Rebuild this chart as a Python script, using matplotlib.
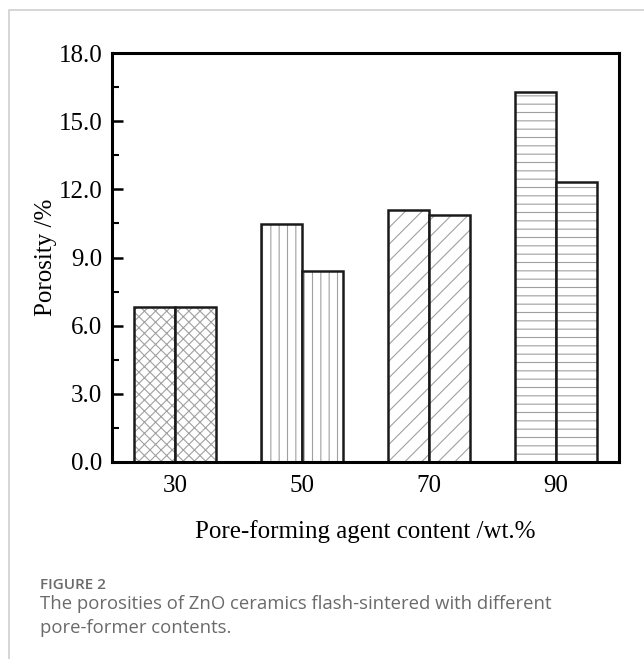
import matplotlib

matplotlib.use("Agg")
import matplotlib.pyplot as plt
import numpy as np
from matplotlib.patches import Rectangle

# --- data -------------------------------------------------------------------
categories = ["30", "50", "70", "90"]
porosity_a = [6.82, 10.47, 11.09, 16.30]
porosity_b = [6.80, 8.41, 10.85, 12.31]
hatches = ["xxx", "||", "//", "--"]

y_ticks = [0.0, 3.0, 6.0, 9.0, 12.0, 15.0, 18.0]

# --- figure -------------------------------------------------------------------
plt.rcParams["hatch.linewidth"] = 0.8
fig = plt.figure(figsize=(6.44, 6.59), dpi=100)

# card border (only left/top edges fall inside the picture)
fig.patches.append(
    Rectangle((8.5 / 644, -0.1), 1.2, 1 - 9.5 / 659 + 0.1,
              transform=fig.transFigure, fill=False,
              edgecolor="#cfcfcf", linewidth=1.2)
)

ax = fig.add_axes([112 / 644, 1 - 462 / 659, (619 - 112) / 644, (462 - 53) / 659])

x = np.arange(len(categories))
width = 0.323
serif = "Liberation Serif"

for xs, vals in ((x - width / 2, porosity_a), (x + width / 2, porosity_b)):
    # hatch layer in gray, then black outlines on top
    ax.bar(xs, vals, width, color="white", edgecolor="#a0a0a0",
           hatch=hatches, linewidth=0)
    ax.bar(xs, vals, width, fill=False, edgecolor="#1a1a1a", linewidth=1.8)

ax.set_xlim(-0.5, len(categories) - 0.5)
ax.set_ylim(0, 18)
ax.set_xticks(x)
ax.set_xticklabels(categories, fontfamily=serif, fontsize=18)
ax.set_yticks(y_ticks)
ax.set_yticklabels([f"{v:.1f}" for v in y_ticks], fontfamily=serif, fontsize=18)
ax.set_yticks(np.arange(1.5, 18, 3.0), minor=True)

ax.tick_params(axis="y", which="major", direction="in", length=8, width=1.8, pad=7)
ax.tick_params(axis="y", which="minor", direction="in", length=5, width=1.5)
ax.tick_params(axis="x", length=0, pad=9)

for spine in ax.spines.values():
    spine.set_linewidth(2.2)

ax.set_ylabel("Porosity /%", fontfamily=serif, fontsize=18, labelpad=1)
ax.set_xlabel("Pore-forming agent content /wt.%", fontfamily=serif, fontsize=18,
              labelpad=17)

# --- caption ---------------------------------------------------------------------
fig.text(40 / 644, 1 - 585 / 659, "FIGURE 2", fontfamily="Open Sans",
         fontsize=11, color="#6a6a6a", va="center", fontweight="semibold")
fig.text(40 / 644, 1 - 604 / 659,
         "The porosities of ZnO ceramics flash-sintered with different",
         fontfamily="Open Sans", fontsize=13.3, color="#6a6a6a", va="center")
fig.text(40 / 644, 1 - 628 / 659, "pore-former contents.",
         fontfamily="Open Sans", fontsize=13.3, color="#6a6a6a", va="center")

fig.savefig("out.png", dpi=100)
plt.close(fig)
